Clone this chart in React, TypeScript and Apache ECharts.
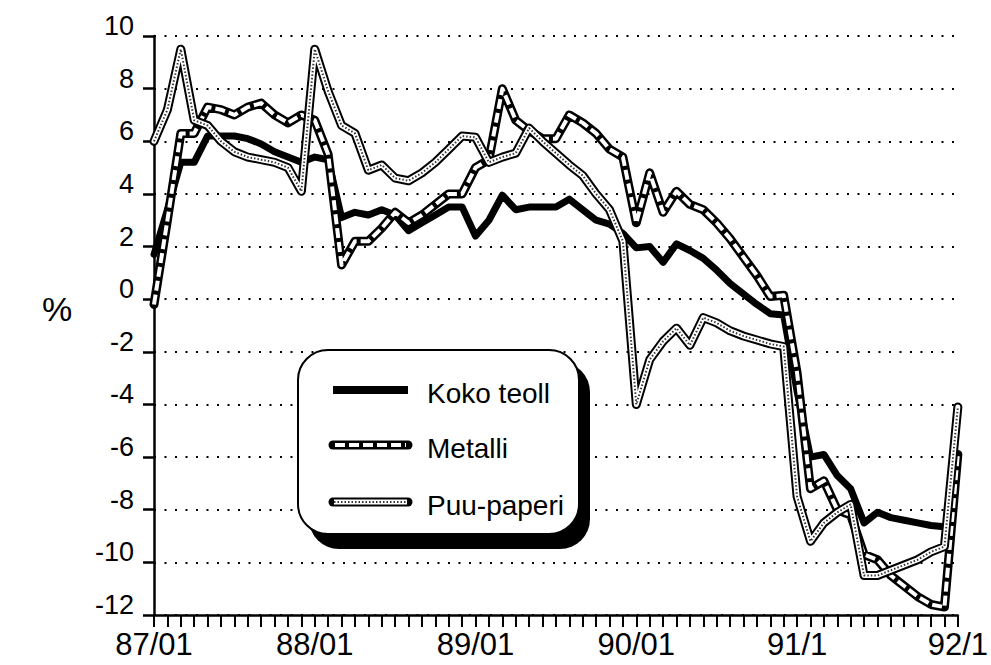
import React, { useEffect, useRef } from "react";
import * as echarts from "echarts";

// ---- data ----
const years = ["87", "88", "89", "90", "91"];
const monthCodes = ["01", "02", "03", "04", "05", "06", "07", "08", "09", "10", "11", "12"];
const categories: string[] = [];
years.forEach((y) => monthCodes.forEach((m) => categories.push(`${y}/${m}`)));
categories.push("92/01");

const xTickLabels = ["87/01", "88/01", "89/01", "90/01", "91/1", "92/1"];

const kokoTeoll: (number | null)[] = [
  1.7, 3.4, 5.2, 5.2, 6.2, 6.2, 6.2, 6.1, 5.9, 5.6,
  5.4, 5.2, 5.4, 5.3, 3.1, 3.3, 3.2, 3.4, 3.2, 2.6,
  2.9, 3.2, 3.5, 3.5, 2.4, 3.0, 3.95, 3.4, 3.5, 3.5,
  3.5, 3.8, 3.4, 3.0, 2.85, 2.5, 1.95, 2.0, 1.4, 2.1,
  1.85, 1.55, 1.1, 0.6, 0.2, -0.2, -0.55, -0.6, -3.5, -6.0,
  -5.9, -6.7, -7.2, -8.5, -8.1, -8.3, -8.4, -8.5, -8.6, -8.65,
  null,
];

const metalli: number[] = [
  -0.2, 3.0, 6.3, 6.3, 7.3, 7.2, 7.0, 7.3, 7.45, 7.0,
  6.7, 7.0, 6.8, 5.5, 1.3, 2.2, 2.2, 2.7, 3.3, 2.9,
  3.2, 3.6, 4.0, 4.0, 5.0, 5.3, 8.0, 6.8, 6.4, 6.1,
  6.1, 7.0, 6.7, 6.3, 5.7, 5.4, 2.9, 4.8, 3.3, 4.1,
  3.6, 3.4, 2.9, 2.3, 1.6, 0.9, 0.1, 0.15, -2.8, -7.2,
  -6.9, -8.0, -8.2, -9.7, -9.9, -10.5, -10.9, -11.3, -11.6, -11.7,
  -5.9,
];

const puuPaperi: number[] = [
  6.0, 7.2, 9.5, 6.8, 6.6, 6.0, 5.6, 5.4, 5.3, 5.2,
  5.0, 4.1, 9.5, 7.9, 6.6, 6.3, 4.9, 5.1, 4.6, 4.5,
  4.8, 5.2, 5.7, 6.2, 6.15, 5.2, 5.4, 5.55, 6.5, 6.0,
  5.55, 5.1, 4.7, 4.0, 3.4, 2.2, -4.0, -2.3, -1.6, -1.1,
  -1.75, -0.7, -0.9, -1.2, -1.4, -1.55, -1.7, -1.8, -7.5, -9.2,
  -8.5, -8.1, -7.8, -10.5, -10.5, -10.3, -10.1, -9.9, -9.6, -9.4,
  -4.1,
];

const seriesNames = ["Koko teoll", "Metalli", "Puu-paperi"];
const yAxisTitle = "%";

const FONT = "'Liberation Sans', Arial, Helvetica, sans-serif";
const Y_MIN = -12;
const Y_MAX = 10;

function lineLayer(name: string, data: (number | null)[], style: any, z: number) {
  return {
    name,
    type: "line",
    data,
    symbol: "none",
    silent: true,
    z,
    lineStyle: { cap: "round", join: "round", ...style },
  };
}

export default function App() {
  const ref = useRef<HTMLDivElement>(null);

  useEffect(() => {
    if (!ref.current) return;
    const chart = echarts.init(ref.current, undefined, { renderer: "svg" });

    const legendX1 = 333;
    const legendX2 = 408;
    const legendYs = [390, 445, 502];
    const textX = 427;

    const legendGraphics: any[] = [
      {
        type: "rect",
        shape: { x: 309, y: 362, width: 281, height: 187, r: 30 },
        style: { fill: "#000" },
        z: 100,
      },
      {
        type: "rect",
        shape: { x: 298, y: 350, width: 281, height: 184, r: 30 },
        style: { fill: "#fff", stroke: "#000", lineWidth: 2 },
        z: 101,
      },
      {
        type: "line",
        shape: { x1: legendX1, y1: legendYs[0], x2: legendX2, y2: legendYs[0] },
        style: { stroke: "#000", lineWidth: 8 },
        z: 102,
      },
      {
        type: "line",
        shape: { x1: legendX1, y1: legendYs[1], x2: legendX2, y2: legendYs[1] },
        style: { stroke: "#000", lineWidth: 9, lineCap: "round" },
        z: 102,
      },
      {
        type: "line",
        shape: { x1: legendX1 + 2, y1: legendYs[1], x2: legendX2 - 2, y2: legendYs[1] },
        style: { stroke: "#fff", lineWidth: 4, lineDash: [10, 4] },
        z: 103,
      },
      {
        type: "line",
        shape: { x1: legendX1, y1: legendYs[2], x2: legendX2, y2: legendYs[2] },
        style: { stroke: "#000", lineWidth: 9, lineCap: "round" },
        z: 102,
      },
      {
        type: "line",
        shape: { x1: legendX1 + 1, y1: legendYs[2], x2: legendX2 - 1, y2: legendYs[2] },
        style: { stroke: "#fff", lineWidth: 5 },
        z: 103,
      },
      {
        type: "line",
        shape: { x1: legendX1 + 1, y1: legendYs[2], x2: legendX2 - 1, y2: legendYs[2] },
        style: { stroke: "#333", lineWidth: 2, lineDash: [1.5, 2] },
        z: 104,
      },
      ...seriesNames.map((n, i) => ({
        type: "text",
        x: textX,
        y: legendYs[i] + 3,
        style: {
          text: n,
          fontSize: 28,
          fontFamily: FONT,
          fill: "#000",
          verticalAlign: "middle",
          align: "left",
        },
        z: 105,
      })),
      {
        type: "text",
        x: 57,
        y: 309,
        style: {
          text: yAxisTitle,
          fontSize: 34,
          fontFamily: FONT,
          fill: "#000",
          align: "center",
          verticalAlign: "middle",
        },
      },
    ];

    chart.setOption({
      animation: false,
      backgroundColor: "#fff",
      grid: { left: 154, right: 31, top: 36, bottom: 50, containLabel: false },
      xAxis: {
        type: "category",
        data: categories,
        boundaryGap: false,
        axisLine: { show: true, onZero: false, lineStyle: { color: "#000", width: 2.5 } },
        axisTick: { show: true, interval: 0, inside: false, length: 12, lineStyle: { color: "#000", width: 2 } },
        axisLabel: {
          interval: 0,
          margin: 14,
          fontSize: 31,
          fontFamily: FONT,
          color: "#000",
          formatter: (_v: string, idx: number) => (idx % 12 === 0 ? xTickLabels[idx / 12] : ""),
        },
        splitLine: { show: false },
      },
      yAxis: {
        type: "value",
        min: Y_MIN,
        max: Y_MAX,
        interval: 2,
        axisLine: { show: true, lineStyle: { color: "#000", width: 2.5 } },
        axisTick: { show: true, inside: false, length: 11, lineStyle: { color: "#000", width: 2.5 } },
        axisLabel: {
          margin: 20,
          fontSize: 27,
          fontFamily: FONT,
          color: "#000",
          verticalAlign: "bottom",
          lineHeight: 20,
        },
        splitLine: { show: true, lineStyle: { color: "#000", width: 2, type: [2, 8.5] } },
      },
      series: [
        lineLayer(seriesNames[0], kokoTeoll, { color: "#000", width: 7 }, 2),
        lineLayer(seriesNames[1], metalli, { color: "#000", width: 9 }, 3),
        lineLayer(seriesNames[1], metalli, { color: "#fff", width: 4, type: [10, 4], cap: "butt" }, 4),
        lineLayer(seriesNames[2], puuPaperi, { color: "#000", width: 9 }, 5),
        lineLayer(seriesNames[2], puuPaperi, { color: "#fff", width: 5 }, 6),
        lineLayer(seriesNames[2], puuPaperi, { color: "#333", width: 2, type: [1.5, 2], cap: "butt" }, 7),
      ],
      graphic: legendGraphics,
    });

    return () => chart.dispose();
  }, []);

  return (
    <div
      ref={ref}
      style={{ position: "absolute", left: 0, top: 0, width: 991, height: 665, background: "#fff" }}
    />
  );
}
